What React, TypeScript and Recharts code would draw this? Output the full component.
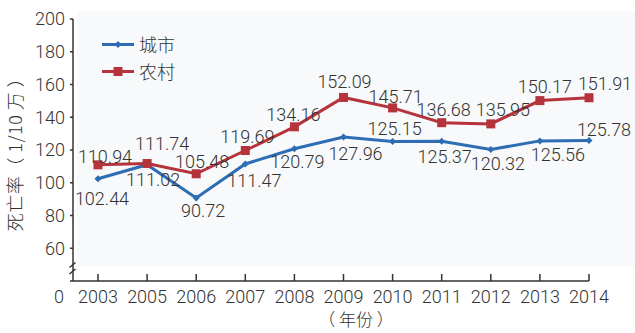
import React from 'react';
import { LineChart, Line, XAxis, YAxis, Legend, LabelList, Label, Customized } from 'recharts';

const years = ['2003', '2005', '2006', '2007', '2008', '2009', '2010', '2011', '2012', '2013', '2014'];
const urbanValues = [102.44, 111.02, 90.72, 111.47, 120.79, 127.96, 125.15, 125.37, 120.32, 125.56, 125.78];
const ruralValues = [110.94, 111.74, 105.48, 119.69, 134.16, 152.09, 145.71, 136.68, 135.95, 150.17, 151.91];
const yTicks = [40, 60, 80, 100, 120, 140, 160, 180, 200];
const seriesNames = ['城市', '农村'];
const yAxisTitle = '死亡率（ 1/10 万 ）';
const xAxisTitle = '（ 年份 ）';

const data = years.map((year, i) => ({ year, urban: urbanValues[i], rural: ruralValues[i] }));

// layout: label offsets from each point (dx, dy)
const urbanLabelOffsets = [[4, 20], [6, 15], [7, 13], [9, 17], [3, 13], [12, 17], [2, -13], [3, 15], [7, 14], [18, 14], [15, -11]];
const ruralLabelOffsets = [[7, -8], [15, -20], [6, -12], [2, -14], [-1, -12], [1, -16], [3, -11], [2, -13], [12, -14], [5, -14], [16, -14]];

const BLUE = '#2d6db3';
const RED = '#b5333b';
const TEXT = '#333';
const AXIS = '#333';
const FONT = 'Roboto, "Liberation Sans", Arial, "Noto Sans CJK SC", sans-serif';
const CJK = '"Noto Sans CJK SC", "Liberation Sans", sans-serif';
const W = 300;

const makeLabel = (offsets: number[][]) => (props: any) => {
  const { x, y, value, index } = props;
  const o = offsets[index] || [0, 0];
  return (
    <text x={x + o[0]} y={y + o[1]} dy="0.36em" textAnchor="middle" fontSize={18} fill={TEXT} fontFamily={FONT} fontWeight={W}>
      {value}
    </text>
  );
};

const DiamondDot = (props: any) => {
  const { cx, cy, index } = props;
  if (cx == null || cy == null) return <g key={index} />;
  const r = 3.5;
  return <path key={index} d={`M${cx},${cy - r}L${cx + r},${cy}L${cx},${cy + r}L${cx - r},${cy}Z`} fill={BLUE} />;
};

const SquareDot = (props: any) => {
  const { cx, cy, index } = props;
  if (cx == null || cy == null) return <g key={index} />;
  const s = 9;
  return <rect key={index} x={cx - s / 2} y={cy - s / 2} width={s} height={s} fill={RED} />;
};

const YTick = (props: any) => {
  const { x, y, payload } = props;
  if (payload.value === 40) {
    return (
      <text x={x - 1} y={y + 22} textAnchor="end" fontSize={18} fill={TEXT} fontFamily={FONT} fontWeight={W}>0</text>
    );
  }
  return (
    <text x={x} y={y} dy="0.36em" textAnchor="end" fontSize={18} fill={TEXT} fontFamily={FONT} fontWeight={W}>
      {payload.value}
    </text>
  );
};

const XTick = (props: any) => {
  const { x, y, payload } = props;
  return (
    <text x={x} y={y} dy="0.71em" textAnchor="middle" fontSize={18} fill={TEXT} fontFamily={FONT} fontWeight={W}>
      {payload.value}
    </text>
  );
};

const Background = () => <rect x={77} y={11} width={558} height={255} fill="#f8f9fa" />;

const AxisBreak = () => (
  <g>
    <rect x={68} y={265} width={10} height={5} fill="#fff" />
    <line x1={69.5} y1={267.5} x2={75.5} y2={262.5} stroke={AXIS} strokeWidth={1.5} />
    <line x1={69.5} y1={274} x2={75.5} y2={269} stroke={AXIS} strokeWidth={1.5} />
  </g>
);

const LegendContent = () => {
  const items = [
    { name: seriesNames[0], color: BLUE, shape: 'diamond' },
    { name: seriesNames[1], color: RED, shape: 'square' },
  ];
  return (
    <div style={{ fontFamily: CJK, fontSize: 18, color: TEXT, fontWeight: W }}>
      {items.map((it) => (
        <div key={it.name} style={{ display: 'flex', alignItems: 'center', height: 27, lineHeight: '27px' }}>
          <svg width={38} height={27} style={{ display: 'block' }}>
            <line x1={1} y1={13.5} x2={33} y2={13.5} stroke={it.color} strokeWidth={3} />
            {it.shape === 'diamond' ? (
              <path d="M17,10L20.5,13.5L17,17L13.5,13.5Z" fill={it.color} />
            ) : (
              <rect x={12.5} y={9} width={9} height={9} fill={it.color} />
            )}
          </svg>
          <span>{it.name}</span>
        </div>
      ))}
    </div>
  );
};

const YTitle = (props: any) => {
  const { viewBox } = props;
  const cx = viewBox.x + 16;
  const cy = viewBox.y + viewBox.height / 2;
  return (
    <text x={cx} y={cy} transform={`rotate(-90 ${cx} ${cy})`} textAnchor="middle" dy="0.36em"
      fontSize={18} fill={TEXT} fontFamily={CJK} fontWeight={W} letterSpacing={0.5}>
      {yAxisTitle}
    </text>
  );
};

const XTitle = (props: any) => {
  const { viewBox } = props;
  const cx = viewBox.x + viewBox.width / 2 + 25;
  const cy = viewBox.y + 39;
  return (
    <text x={cx} y={cy} textAnchor="middle" dy="0.36em" fontSize={17} fill={TEXT}
      fontFamily={CJK} fontWeight={W}>
      {xAxisTitle}
    </text>
  );
};

export default function App() {
  return (
    <div style={{ position: 'absolute', left: 0, top: 0, width: 635, height: 333, background: '#fff' }}>
      <LineChart width={635} height={333} data={data} margin={{ top: 19, right: 46, left: 0, bottom: 22 }}>
        <Customized component={Background} />
        <XAxis
          dataKey="year"
          padding={{ left: 25, right: 0 }}
          tickSize={-7}
          tickMargin={16}
          tick={<XTick />}
          stroke={AXIS}
          axisLine={{ stroke: AXIS, strokeWidth: 1.5 }}
          tickLine={{ stroke: AXIS, strokeWidth: 1.5 }}
          interval={0}
          height={30}
        >
          <Label content={<XTitle />} />
        </XAxis>
        <YAxis
          domain={[40, 200]}
          ticks={yTicks}
          type="number"
          width={73}
          tickSize={3}
          tickMargin={5}
          tick={<YTick />}
          axisLine={{ stroke: AXIS, strokeWidth: 1.5 }}
          tickLine={{ stroke: AXIS, strokeWidth: 1.5 }}
          interval={0}
        >
          <Label content={<YTitle />} />
        </YAxis>
        <Legend
          layout="vertical"
          align="center"
          verticalAlign="middle"
          content={<LegendContent />}
          wrapperStyle={{ left: 101, top: 30.5, width: 100, height: 54 }}
        />
        <Line
          type="linear"
          dataKey="urban"
          name={seriesNames[0]}
          stroke={BLUE}
          strokeWidth={3}
          dot={<DiamondDot />}
          activeDot={false}
          isAnimationActive={false}
        >
          <LabelList dataKey="urban" content={makeLabel(urbanLabelOffsets)} />
        </Line>
        <Line
          type="linear"
          dataKey="rural"
          name={seriesNames[1]}
          stroke={RED}
          strokeWidth={3}
          dot={<SquareDot />}
          activeDot={false}
          isAnimationActive={false}
        >
          <LabelList dataKey="rural" content={makeLabel(ruralLabelOffsets)} />
        </Line>
        <Customized component={AxisBreak} />
      </LineChart>
    </div>
  );
}
